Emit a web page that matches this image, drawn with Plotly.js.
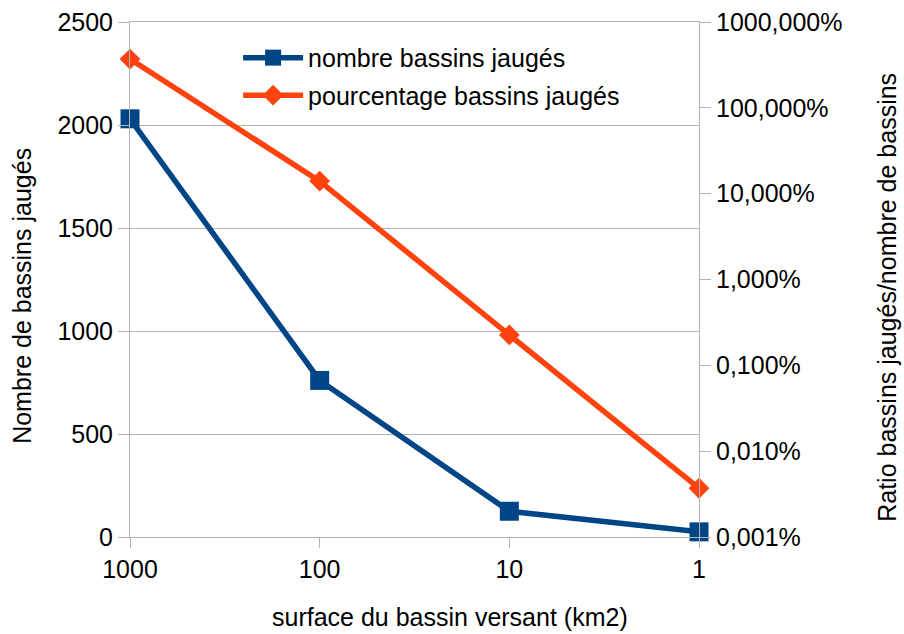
<!DOCTYPE html>
<html>
<head>
<meta charset="utf-8">
<script src="https://cdn.plot.ly/plotly-3.0.1.min.js"></script>
<style>html,body{margin:0;padding:0;background:#fff;}#chart{width:904px;height:634px;}</style>
</head>
<body>
<div id="chart"></div>
<script>
const categories = ["1000", "100", "10", "1"];
const nombreBassins = [2030, 760, 125, 25];
const pourcentageBassins = [3.7, 0.14, 0.00226, 0.000037];
const rightTickVals = [0.00001, 0.0001, 0.001, 0.01, 0.1, 1, 10];
const rightTickText = ["0,001%", "0,010%", "0,100%", "1,000%", "10,000%", "100,000%", "1000,000%"];
const leftTickVals = [0, 500, 1000, 1500, 2000, 2500];
const xTitle = "surface du bassin versant (km2)";
const yTitle = "Nombre de bassins jaugés";
const y2Title = "Ratio bassins jaugés/nombre de bassins";

const FONT = "Liberation Sans, Arial, sans-serif";
const GRID = "#b3b3b3";

const traces = [
  {
    x: categories, y: nombreBassins, name: "nombre bassins jaugés",
    type: "scatter", mode: "lines+markers", legendgroup: "a", cliponaxis: false,
    line: {color: "#004586", width: 5.5},
    marker: {symbol: "square", size: 19, color: "#004586"},
    yaxis: "y"
  },
  {
    x: categories, y: pourcentageBassins, name: "pourcentage bassins jaugés",
    type: "scatter", mode: "lines+markers", legendgroup: "b", cliponaxis: false,
    line: {color: "#ff420e", width: 5.5},
    marker: {symbol: "diamond", size: 16, color: "#ff420e"},
    yaxis: "y2"
  }
];

const titleFont = {family: FONT, size: 25, color: "#000"};

const layout = {
  width: 904, height: 634,
  margin: {l: 130, r: 205, t: 22, b: 97, autoexpand: false},
  paper_bgcolor: "#fff", plot_bgcolor: "#fff",
  font: {family: FONT, size: 25, color: "#000"},
  showlegend: true,
  legend: {
    x: 0.19, y: 0.975, xanchor: "left", yanchor: "top",
    bgcolor: "rgba(0,0,0,0)", font: {family: FONT, size: 25, color: "#000"},
    itemwidth: 60, traceorder: "grouped", tracegroupgap: 2
  },
  xaxis: {
    type: "category", range: [0, 3],
    showgrid: false, zeroline: false,
    showline: true, mirror: true, linecolor: GRID, linewidth: 1,
    ticks: "outside", ticklen: 10, tickcolor: GRID,
    tickfont: {family: FONT, size: 25, color: "#000"},
    automargin: false, fixedrange: true
  },
  yaxis: {
    range: [0, 2500], tickvals: leftTickVals,
    showgrid: true, gridcolor: GRID, gridwidth: 1, zeroline: false,
    showline: true, linecolor: GRID, linewidth: 1,
    ticks: "outside", ticklen: 11, tickcolor: GRID,
    tickfont: {family: FONT, size: 25, color: "#000"},
    automargin: false, fixedrange: true
  },
  yaxis2: {
    type: "log", range: [-5, 1], overlaying: "y", side: "right",
    tickvals: rightTickVals, ticktext: rightTickText,
    showgrid: false, zeroline: false,
    showline: true, linecolor: GRID, linewidth: 1,
    ticks: "outside", ticklen: 11, tickcolor: GRID,
    tickfont: {family: FONT, size: 25, color: "#000"},
    automargin: false, fixedrange: true
  },
  annotations: [
    {text: xTitle, xref: "paper", yref: "paper", x: 0.562, y: -0.155,
     xanchor: "center", yanchor: "middle", showarrow: false, font: titleFont},
    {text: yTitle, xref: "paper", yref: "paper", x: -0.190, y: 0.468, textangle: -90,
     xanchor: "center", yanchor: "middle", showarrow: false, font: titleFont},
    {text: y2Title, xref: "paper", yref: "paper", x: 1.330, y: 0.466, textangle: -90,
     xanchor: "center", yanchor: "middle", showarrow: false, font: titleFont}
  ]
};

Plotly.newPlot("chart", traces, layout, {displayModeBar: false, staticPlot: true});
</script>
</body>
</html>
